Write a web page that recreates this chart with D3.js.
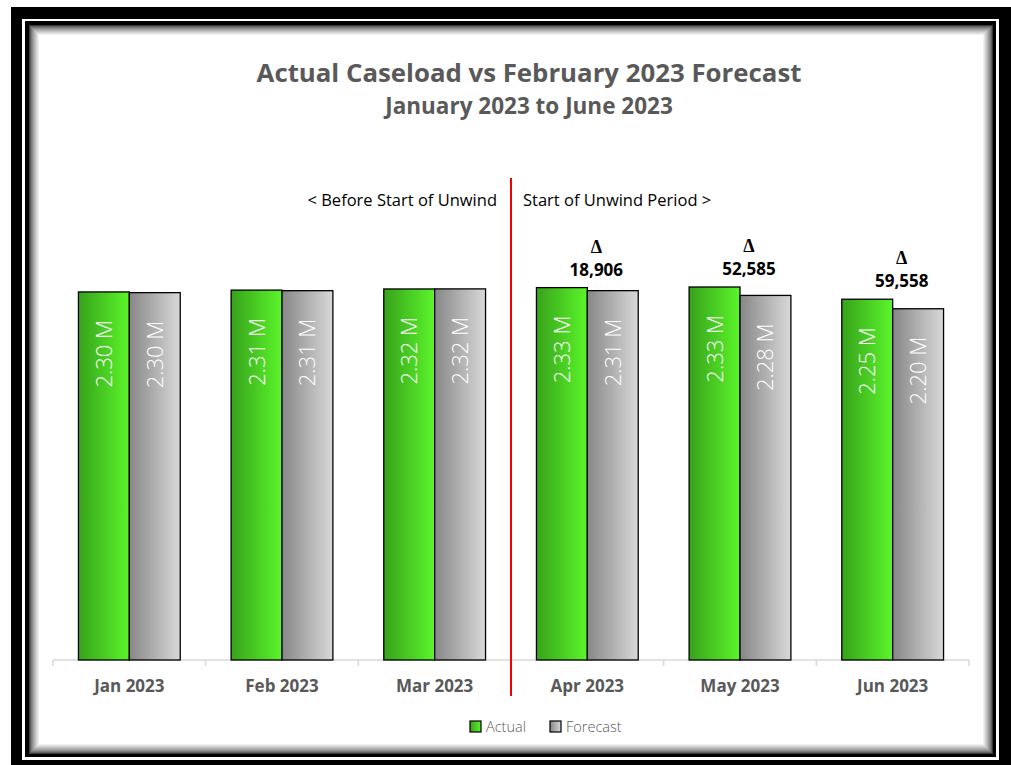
<!DOCTYPE html>
<html>
<head>
<meta charset="utf-8">
<script src="https://cdn.jsdelivr.net/npm/d3@7"></script>
<style>
  html, body { margin: 0; padding: 0; background: #ffffff; }
  svg { display: block; }
</style>
</head>
<body>
<script>
// Monthly caseload, actual vs. the February 2023 forecast
const months = ["Jan 2023", "Feb 2023", "Mar 2023", "Apr 2023", "May 2023", "Jun 2023"];
const seriesNames = ["Actual", "Forecast"];
const actual   = [2300400, 2311800, 2318900, 2327400, 2331200, 2254800];
const forecast = [2296000, 2308300, 2319400, 2308494, 2278615, 2195242];
const unwindStartIndex = 3; // April 2023 onward
const titleText = "Actual Caseload vs February 2023 Forecast";
const subtitleText = "January 2023 to June 2023";
const beforeText = "< Before Start of Unwind";
const afterText = "Start of Unwind Period >";

const W = 1011, H = 765;
const font = "'Open Sans', 'Noto Sans', sans-serif";

const svg = d3.select("body").append("svg")
  .attr("width", W).attr("height", H);

const defs = svg.append("defs");
const gGreen = defs.append("linearGradient").attr("id", "gradActual")
  .attr("x1", "0%").attr("y1", "0%").attr("x2", "100%").attr("y2", "0%");
gGreen.append("stop").attr("offset", "0%").attr("stop-color", "#37a21b");
gGreen.append("stop").attr("offset", "100%").attr("stop-color", "#5bf52b");
const gGray = defs.append("linearGradient").attr("id", "gradForecast")
  .attr("x1", "0%").attr("y1", "0%").attr("x2", "100%").attr("y2", "0%");
gGray.append("stop").attr("offset", "0%").attr("stop-color", "#878787");
gGray.append("stop").attr("offset", "100%").attr("stop-color", "#d9d9d9");

// ---- picture frame ----
svg.append("rect").attr("x", 11).attr("y", 7).attr("width", W - 11).attr("height", H - 7).attr("fill", "#000");
svg.append("rect").attr("x", 22).attr("y", 19).attr("width", 977).attr("height", 741).attr("fill", "#fff");
svg.append("rect").attr("x", 25).attr("y", 21).attr("width", 971).attr("height", 736).attr("fill", "#000");
const inner = { x: 29, y: 25, w: 964, h: 729 };
svg.append("rect").attr("x", inner.x).attr("y", inner.y).attr("width", inner.w).attr("height", inner.h).attr("fill", "#fff");
// soft inner shadow along the frame edge
const shadeSteps = 11;
const shade = d3.interpolateRgb("#3a3a3a", "#ffffff");
d3.range(shadeSteps).forEach(i => {
  const t = Math.pow(i / (shadeSteps - 1), 0.7);
  svg.append("rect")
    .attr("x", inner.x + i + 0.5).attr("y", inner.y + i + 0.5)
    .attr("width", inner.w - 2 * i - 1).attr("height", inner.h - 2 * i - 1)
    .attr("fill", "none").attr("stroke", shade(t)).attr("stroke-width", 1);
});

// ---- scales ----
const plot = { left: 53, right: 969, top: 180, bottom: 660 };
const x = d3.scaleBand().domain(months).range([plot.left, plot.right]).paddingInner(0).paddingOuter(0);
const xs = d3.scaleBand().domain(seriesNames).range([0, x.bandwidth()]).paddingInner(0).paddingOuter(0.5);
const y = d3.scaleLinear().domain([0, 3000000]).range([plot.bottom, plot.top]);

// ---- titles ----
svg.append("text").attr("x", 529).attr("y", 82)
  .attr("text-anchor", "middle").attr("font-family", font).attr("font-weight", 700)
  .attr("font-size", 25.8).attr("fill", "#595959").text(titleText);
svg.append("text").attr("x", 529).attr("y", 114)
  .attr("text-anchor", "middle").attr("font-family", font).attr("font-weight", 700)
  .attr("font-size", 22.5).attr("fill", "#595959").text(subtitleText);

// ---- category axis ----
const axisG = svg.append("g").attr("transform", `translate(0,${plot.bottom})`);
axisG.append("line").attr("x1", plot.left).attr("x2", plot.right).attr("y1", 0).attr("y2", 0)
  .attr("stroke", "#d9d9d9").attr("stroke-width", 1.5);
const boundaries = months.map(m => x(m)).concat([plot.right]);
axisG.selectAll("line.tick").data(boundaries).join("line").attr("class", "tick")
  .attr("x1", d => d).attr("x2", d => d).attr("y1", 0).attr("y2", 6)
  .attr("stroke", "#d9d9d9").attr("stroke-width", 1.5);
axisG.selectAll("text").data(months).join("text")
  .attr("x", d => x(d) + x.bandwidth() / 2).attr("y", 32)
  .attr("text-anchor", "middle").attr("font-family", font).attr("font-weight", 700)
  .attr("font-size", 17).attr("fill", "#595959").text(d => d);

// ---- bars ----
const rows = months.map((m, i) => ({ month: m, i, values: [
  { series: "Actual", value: actual[i] },
  { series: "Forecast", value: forecast[i] }
]}));
const fillFor = { Actual: "url(#gradActual)", Forecast: "url(#gradForecast)" };

const groups = svg.append("g").selectAll("g").data(rows).join("g")
  .attr("transform", d => `translate(${x(d.month)},0)`);
groups.selectAll("rect").data(d => d.values).join("rect")
  .attr("x", d => xs(d.series)).attr("width", xs.bandwidth())
  .attr("y", d => y(d.value)).attr("height", d => y(0) - y(d.value))
  .attr("fill", d => fillFor[d.series]).attr("stroke", "#000").attr("stroke-width", 1.3);

// value labels inside the top of each bar, rotated
groups.selectAll("text.val").data(d => d.values).join("text").attr("class", "val")
  .attr("transform", d => `translate(${xs(d.series) + xs.bandwidth() / 2 + 8},${y(d.value) + 28}) rotate(-90)`)
  .attr("text-anchor", "end").attr("font-family", font).attr("font-weight", 300)
  .attr("font-size", 22).attr("fill", "#ffffff")
  .text(d => (d.value / 1e6).toFixed(2) + " M");

// ---- unwind divider ----
const divX = x(months[unwindStartIndex]);
svg.append("line").attr("x1", divX).attr("x2", divX).attr("y1", 178).attr("y2", 696)
  .attr("stroke", "#f00000").attr("stroke-width", 2);
svg.append("text").attr("x", divX - 14).attr("y", 206).attr("text-anchor", "end")
  .attr("font-family", font).attr("font-size", 16.5).attr("fill", "#000").text(beforeText);
svg.append("text").attr("x", divX + 12).attr("y", 206).attr("text-anchor", "start")
  .attr("font-family", font).attr("font-size", 16.5).attr("fill", "#000").text(afterText);

// ---- delta labels over the unwind months ----
const deltas = rows.filter(r => r.i >= unwindStartIndex);
const fmt = d3.format(",");
const dG = svg.append("g").selectAll("g").data(deltas).join("g")
  .attr("transform", d => `translate(${x(d.month) + x.bandwidth() / 2 + 9},${y(actual[d.i])})`);
dG.append("text").attr("y", -35).attr("text-anchor", "middle")
  .attr("font-family", "'Liberation Serif', 'DejaVu Serif', serif").attr("font-weight", 700)
  .attr("font-size", 18).attr("fill", "#000")
  .text("Δ");
dG.append("text").attr("y", -12).attr("text-anchor", "middle")
  .attr("font-family", font).attr("font-weight", 700).attr("font-size", 17).attr("fill", "#000")
  .text(d => fmt(actual[d.i] - forecast[d.i]));

// ---- legend ----
const legend = svg.append("g").attr("transform", "translate(470,721)");
const legendItems = [
  { name: "Actual", dx: 0 },
  { name: "Forecast", dx: 80 }
];
const li = legend.selectAll("g").data(legendItems).join("g")
  .attr("transform", d => `translate(${d.dx},0)`);
li.append("rect").attr("width", 11).attr("height", 11)
  .attr("fill", d => fillFor[d.name])
  .attr("stroke", "#000").attr("stroke-width", 1.2);
li.append("text").attr("x", 16).attr("y", 11).attr("font-family", font).attr("font-weight", 300)
  .attr("font-size", 14.5).attr("fill", "#595959").text(d => d.name);
</script>
</body>
</html>
